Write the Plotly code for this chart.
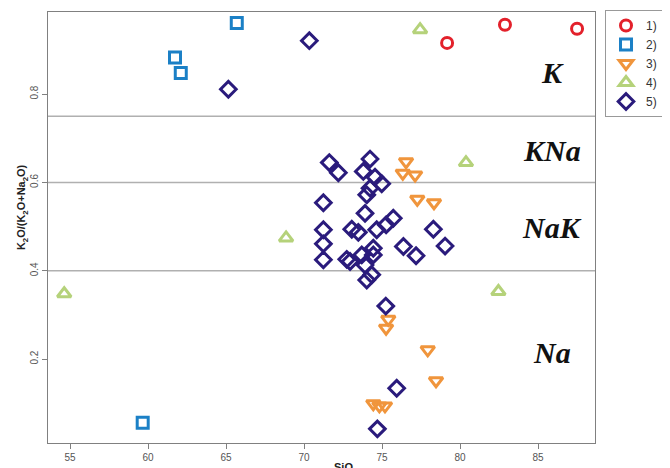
import plotly.graph_objects as go

# ---- data (SiO2, K2O/(K2O+Na2O)) ----
s1_x = [79.17, 82.88, 87.50]
s1_y = [0.916, 0.957, 0.948]

s2_x = [65.69, 61.73, 62.10, 59.66]
s2_y = [0.961, 0.883, 0.848, 0.056]

s3_x = [76.54, 76.33, 77.12, 77.26, 78.33, 75.40, 75.26, 77.93, 78.46, 74.44, 74.83, 75.19]
s3_y = [0.647, 0.621, 0.617, 0.562, 0.554, 0.290, 0.270, 0.221, 0.151, 0.099, 0.094, 0.094]

s4_x = [77.44, 80.38, 68.85, 54.63, 82.46]
s4_y = [0.946, 0.645, 0.4745, 0.348, 0.353]

s5_x = [71.62, 72.20, 74.23, 73.80, 74.55, 74.98, 74.23, 74.02, 71.24, 73.91,
        75.72, 75.26, 74.66, 71.24, 73.06, 73.48, 78.29, 71.24, 76.37, 77.18,
        79.04, 71.24, 72.74, 72.95, 73.70, 74.44, 74.44, 73.91, 74.34, 74.02,
        70.34, 65.15, 75.24, 75.94, 74.70]
s5_y = [0.645, 0.622, 0.653, 0.625, 0.612, 0.597, 0.587, 0.572, 0.554, 0.530,
        0.519, 0.504, 0.493, 0.493, 0.494, 0.487, 0.494, 0.461, 0.455, 0.434,
        0.456, 0.425, 0.426, 0.421, 0.436, 0.451, 0.436, 0.413, 0.391, 0.379,
        0.921, 0.811, 0.320, 0.134, 0.042]

series_names = ["1)", "2)", "3)", "4)", "5)"]
boundaries = [0.75, 0.6, 0.4]
region_labels = ["K", "KNa", "NaK", "Na"]
region_label_y = [0.850, 0.672, 0.499, 0.216]
x_ticks = [55, 60, 65, 70, 75, 80, 85]
y_ticks = [0.2, 0.4, 0.6, 0.8]

styles = [
    ("circle-open", "#e3212b", 11),
    ("square-open", "#1b80c6", 11),
    ("triangle-down-open", "#f0953c", 12),
    ("triangle-up-open", "#b5d27a", 12),
    ("diamond-open", "#2a1b7c", 12),
]

fig = go.Figure()
for (xs, ys), name, (sym, col, sz) in zip(
        [(s1_x, s1_y), (s2_x, s2_y), (s3_x, s3_y), (s4_x, s4_y), (s5_x, s5_y)],
        series_names, styles):
    fig.add_trace(go.Scatter(
        x=xs, y=ys, mode="markers", name=name,
        marker=dict(symbol=sym, size=sz, color=col, line=dict(width=3, color=col)),
    ))

for b in boundaries:
    fig.add_shape(type="line", xref="paper", x0=0, x1=1, yref="y", y0=b, y1=b,
                  line=dict(color="#b0b0b0", width=1.5), layer="below")

for lab, ly in zip(region_labels, region_label_y):
    fig.add_annotation(x=85.9, y=ly, xref="x", yref="y", text="<b><i>%s</i></b>" % lab,
                       showarrow=False, xanchor="center", yanchor="middle",
                       font=dict(family="Liberation Serif", size=30, color="#111111"))

fig.add_annotation(x=0.543, y=-0.037, xref="paper", yref="paper",
                   text="<b>SiO<sub>2</sub></b>", showarrow=False,
                   xanchor="center", yanchor="top",
                   font=dict(family="Liberation Sans", size=11, color="#222222"))
fig.add_annotation(x=-0.047, y=0.548, xref="paper", yref="paper",
                   text="<b>K<sub>2</sub>O/(K<sub>2</sub>O+Na<sub>2</sub>O)</b>",
                   showarrow=False, textangle=-90, xanchor="center", yanchor="middle",
                   font=dict(family="Liberation Sans", size=11, color="#222222"))

# page body has an 8px margin, so the figure is sized / offset to compensate
fig.update_layout(
    width=662, height=460,
    margin=dict(l=40, r=75, t=4, b=25, autoexpand=False),
    paper_bgcolor="white", plot_bgcolor="white",
    showlegend=True,
    legend=dict(x=1.0183, y=1.0046, xanchor="left", yanchor="top",
                bordercolor="#999999", borderwidth=1,
                font=dict(family="Liberation Sans", size=12, color="#333333"),
                tracegroupgap=0, itemwidth=30),
    xaxis=dict(range=[53.59, 88.65], tickvals=x_ticks, showgrid=False, zeroline=False,
               showline=True, linecolor="#808080", linewidth=1.2, mirror=True,
               ticks="outside", ticklen=5, tickcolor="#808080", automargin=False,
               tickfont=dict(family="Liberation Sans", size=10, color="#555555")),
    yaxis=dict(range=[0.010, 0.986], tickvals=y_ticks, showgrid=False, zeroline=False,
               showline=True, linecolor="#808080", linewidth=1.2, mirror=True,
               ticks="outside", ticklen=5, tickcolor="#808080", tickangle=-90,
               automargin=False,
               tickfont=dict(family="Liberation Sans", size=10, color="#555555")),
)

fig.write_html("out.html")
